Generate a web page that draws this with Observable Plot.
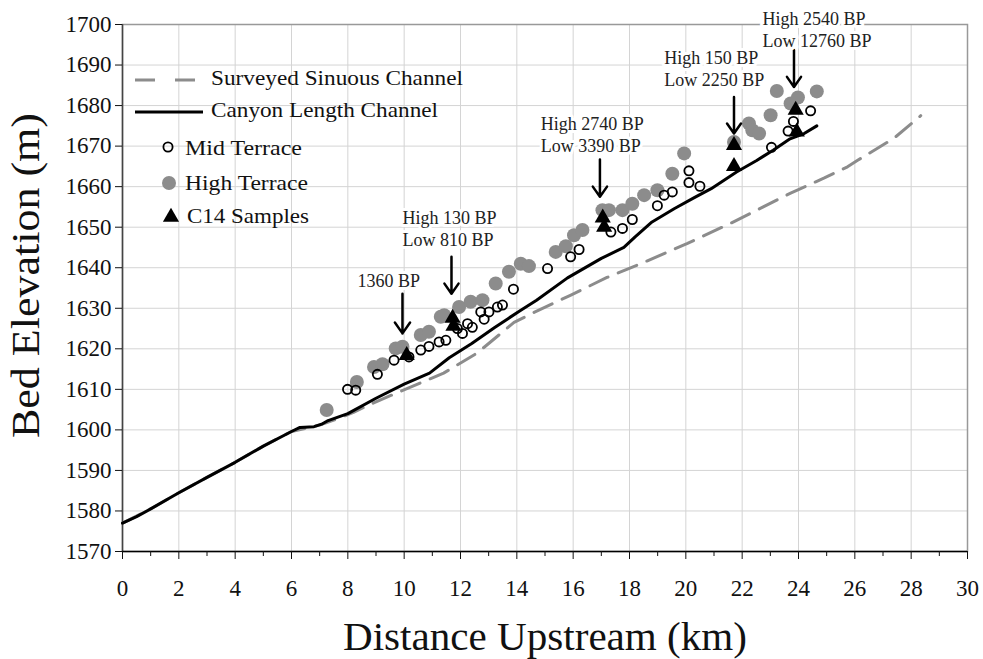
<!DOCTYPE html>
<html>
<head>
<meta charset="utf-8">
<script src="https://cdn.jsdelivr.net/npm/d3@7"></script>
<script src="https://cdn.jsdelivr.net/npm/@observablehq/plot@0.6"></script>
<style>
  html, body { margin: 0; padding: 0; background: white; }
  #chart { width: 983px; height: 659px; }
</style>
</head>
<body>
<div id="chart"></div>
<script>
// ---- Data ----
const xTicksMajor = [0, 2, 4, 6, 8, 10, 12, 14, 16, 18, 20, 22, 24, 26, 28, 30];
const xTicksMinor = [1, 3, 5, 7, 9, 11, 13, 15, 17, 19, 21, 23, 25, 27, 29];
const yTicks = [1570, 1580, 1590, 1600, 1610, 1620, 1630, 1640, 1650, 1660, 1670, 1680, 1690, 1700];

// Canyon Length Channel (km, m)
const canyonKm   = [0, 0.5, 1, 2, 3, 4, 5, 6, 6.3, 6.8, 7.1, 7.3, 8, 9, 10, 10.9, 11.6, 12.4, 13.2, 13.7, 14.1, 14.7, 15.8, 17, 17.8, 18.2, 18.8, 19.6, 20.3, 20.9, 21.8, 22.5, 23.1, 23.7, 24.2, 24.65];
const canyonElev = [1577, 1578.6, 1580.5, 1584.5, 1588.3, 1592, 1596, 1599.6, 1600.6, 1600.8, 1601.5, 1602.3, 1604, 1607.8, 1611.3, 1614, 1617.8, 1621.3, 1625.2, 1627.5, 1629.3, 1632, 1637.5, 1642.3, 1645, 1647.6, 1651.3, 1654.6, 1657.3, 1659.5, 1663.6, 1666.4, 1669, 1671.8, 1673.1, 1675];

// Surveyed Sinuous Channel (km, m)
const sinuousKm   = [0, 1, 2, 3, 4, 5, 6, 7, 7.5, 8.2, 8.7, 9.9, 11.4, 12.6, 13.9, 14.5, 15.9, 17.2, 18.4, 20.06, 21.6, 22.66, 23.72, 24.9, 25.74, 26.1, 27.4, 28.34];
const sinuousElev = [1577, 1580.5, 1584.5, 1588.3, 1592, 1596, 1599.6, 1601.2, 1602.4, 1604.3, 1606, 1609.6, 1614, 1619, 1626.5, 1628.6, 1633.2, 1637.6, 1641, 1646, 1651, 1654.7, 1658.4, 1662.1, 1664.9, 1666.5, 1672, 1677.5];

// Mid Terrace
const midKm   = [7.99, 8.28, 9.05, 9.64, 10.17, 10.59, 10.88, 11.24, 11.48, 11.89, 12.07, 12.25, 12.42, 12.72, 12.84, 13.01, 13.31, 13.49, 13.88, 15.09, 15.91, 16.21, 17.34, 17.75, 18.10, 18.99, 19.23, 19.52, 20.11, 20.11, 20.5, 23.04, 23.63, 23.82, 24.43];
const midElev = [1610.0, 1609.8, 1613.7, 1617.2, 1618.0, 1619.7, 1620.6, 1621.7, 1622.1, 1625.0, 1623.8, 1626.2, 1625.3, 1629.1, 1627.3, 1629.1, 1630.3, 1630.8, 1634.7, 1639.8, 1642.7, 1644.5, 1648.8, 1649.7, 1651.9, 1655.3, 1657.9, 1658.7, 1663.9, 1661.0, 1660.1, 1669.7, 1673.7, 1676.1, 1678.7];

// High Terrace
const highKm   = [7.25, 8.32, 8.93, 9.23, 9.70, 9.94, 10.59, 10.88, 11.3, 11.42, 11.95, 12.36, 12.78, 13.25, 13.72, 14.14, 14.43, 15.38, 15.74, 16.03, 16.33, 17.04, 17.27, 17.75, 18.10, 18.52, 18.99, 19.52, 19.94, 21.71, 22.24, 22.36, 22.60, 23.01, 23.23, 23.72, 23.98, 24.65];
const highElev = [1604.9, 1611.8, 1615.5, 1616.2, 1620.1, 1620.5, 1623.4, 1624.2, 1627.9, 1628.3, 1630.3, 1631.6, 1632.0, 1636.1, 1639.0, 1641.0, 1640.4, 1643.9, 1645.3, 1648.0, 1649.3, 1654.2, 1654.2, 1654.2, 1655.8, 1657.9, 1659.1, 1663.2, 1668.2, 1671.0, 1675.6, 1673.9, 1673.1, 1677.6, 1683.6, 1680.5, 1682.0, 1683.5];

// C14 Samples
const c14Km   = [10.09, 11.72, 11.75, 17.05, 17.1, 21.71, 21.71, 23.9, 23.94];
const c14Elev = [1618.4, 1627.6, 1625.6, 1652.3, 1650.0, 1670.2, 1665.0, 1678.9, 1673.5];

// Arrow annotations: position, arrow top, arrow tip
const arrowKm   = [9.94, 11.68, 16.95, 21.71, 23.84];
const arrowTop  = [1633.6, 1642.7, 1666.7, 1682.1, 1693.7];
const arrowTip  = [1623.8, 1633.6, 1657.5, 1673.1, 1684.6];
const labelKm   = [8.34, 9.94, 14.85, 19.23, 22.72];
const labelElev = [1637.1, 1649.9, 1673.1, 1689.2, 1699.0];
const labelText = ["1360 BP", "High 130 BP\nLow 810 BP", "High 2740 BP\nLow 3390 BP", "High 150 BP\nLow 2250 BP", "High 2540 BP\nLow 12760 BP"];

const legendLabels = ["Surveyed Sinuous Channel", "Canyon Length Channel", "Mid Terrace", "High Terrace", "C14 Samples"];
const xTitle = "Distance Upstream (km)";
const yTitle = "Bed Elevation (m)";

// ---- Build tables ----
const zip = (xs, ys) => xs.map((x, i) => ({x, y: ys[i]}));
const canyon = zip(canyonKm, canyonElev);
const sinuous = zip(sinuousKm, sinuousElev);
const mid = zip(midKm, midElev);
const high = zip(highKm, highElev);
const c14 = zip(c14Km, c14Elev);
const arrows = arrowKm.map((x, i) => ({x, y1: arrowTop[i], y2: arrowTip[i]}));
const labels = labelKm.map((x, i) => ({x, y: labelElev[i], text: labelText[i]}));

const serif = "'Liberation Serif', 'Times New Roman', Times, serif";

const chart = Plot.plot({
  width: 983,
  height: 659,
  marginLeft: 122,
  marginRight: 16,
  marginTop: 24,
  marginBottom: 108,
  x: {domain: [0, 30]},
  y: {domain: [1570, 1700]},
  style: {fontFamily: serif, fontSize: "23px", color: "#111", background: "white"},
  marks: [
    Plot.gridX(xTicksMajor, {stroke: "#d4d4d4", strokeOpacity: 1}),
    Plot.gridY(yTicks, {stroke: "#d4d4d4", strokeOpacity: 1}),
    Plot.frame({stroke: "#999", strokeWidth: 1.5}),
    Plot.ruleX([0], {stroke: "#444", strokeWidth: 1.5}),
    Plot.ruleY([1570], {stroke: "#000", strokeWidth: 1.5}),
    Plot.line(sinuous, {x: "x", y: "y", stroke: "#8c8c8c", strokeWidth: 3, strokeDasharray: "20,11"}),
    Plot.line(canyon, {x: "x", y: "y", stroke: "#000", strokeWidth: 3}),
    Plot.dot(high, {x: "x", y: "y", r: 7, fill: "#8c8c8c"}),
    Plot.dot(mid, {x: "x", y: "y", r: 4.6, stroke: "#000", strokeWidth: 1.8, fill: "none"}),
    Plot.dot(c14, {x: "x", y: "y", symbol: "triangle", r: 6, fill: "#000"}),
    Plot.arrow(arrows, {x1: "x", x2: "x", y1: "y1", y2: "y2", stroke: "#000", strokeWidth: 2.5, headLength: 8, headAngle: 70}),
    Plot.text(labels, {x: "x", y: "y", text: "text", textAnchor: "start", lineAnchor: "middle", fontSize: 18, lineHeight: 1.22, fill: "#222", stroke: "white", strokeWidth: 6}),
    Plot.axisX(xTicksMajor, {tickSize: 8, tickPadding: 20, label: null, fontSize: 23, tickFormat: d => String(d)}),
    Plot.axisX(xTicksMinor, {tickSize: 5, label: null, tickFormat: () => ""}),
    Plot.axisY(yTicks, {tickSize: 7, tickPadding: 4, label: null, fontSize: 23, tickFormat: d => String(d)})
  ]
});

document.getElementById("chart").appendChild(chart);

// ---- Axis titles and in-plot legend ----
const svg = d3.select(chart);
svg.append("text")
  .attr("x", 545).attr("y", 650)
  .attr("text-anchor", "middle")
  .attr("font-family", serif).attr("font-size", 41).attr("fill", "#111")
  .attr("textLength", 404).attr("lengthAdjust", "spacingAndGlyphs")
  .text(xTitle);
svg.append("text")
  .attr("transform", "translate(39,275.5) rotate(-90)")
  .attr("text-anchor", "middle")
  .attr("font-family", serif).attr("font-size", 41).attr("fill", "#111")
  .attr("textLength", 325).attr("lengthAdjust", "spacingAndGlyphs")
  .text(yTitle);

const lg = svg.append("g").attr("font-family", serif).attr("font-size", 21)
  .attr("fill", "#111").attr("text-anchor", "start");
lg.append("line").attr("x1", 135).attr("x2", 199).attr("y1", 80).attr("y2", 80)
  .attr("stroke", "#8c8c8c").attr("stroke-width", 3).attr("stroke-dasharray", "20,20");
lg.append("line").attr("x1", 135).attr("x2", 203).attr("y1", 112).attr("y2", 112)
  .attr("stroke", "#000").attr("stroke-width", 3);
lg.append("circle").attr("cx", 168).attr("cy", 147).attr("r", 4.6)
  .attr("fill", "none").attr("stroke", "#000").attr("stroke-width", 1.8);
lg.append("circle").attr("cx", 169).attr("cy", 183).attr("r", 7).attr("fill", "#8c8c8c");
lg.append("path").attr("transform", "translate(171,217)")
  .attr("d", d3.symbol(d3.symbolTriangle, Math.PI * 6 * 6)()).attr("fill", "#000");
const lx = [211, 211, 185, 185, 187];
const ly = [78, 110, 148, 183, 216];
const lw = [252, 227, 117, 123, 122];
legendLabels.forEach((t, i) => {
  lg.append("text").attr("x", lx[i]).attr("y", ly[i]).attr("dy", "0.35em")
    .attr("text-anchor", "start")
    .attr("textLength", lw[i]).attr("lengthAdjust", "spacingAndGlyphs")
    .text(t);
});
</script>
</body>
</html>
